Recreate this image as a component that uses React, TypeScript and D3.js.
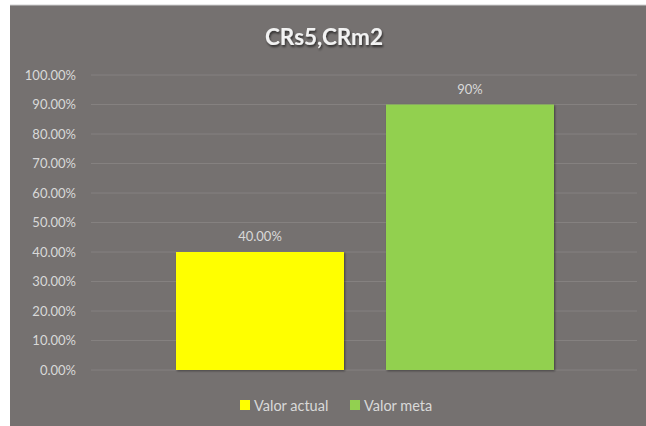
import React from "react";
import * as d3 from "d3";

const title = "CRs5,CRm2";
const categories = ["Valor actual", "Valor meta"];
const values = [0.4, 0.9];
const valueLabels = ["40.00%", "90%"];
const colors = ["#FFFF00", "#92D050"];
const yTicks = [0, 0.1, 0.2, 0.3, 0.4, 0.5, 0.6, 0.7, 0.8, 0.9, 1.0];

export default function App() {
  const W = 646, H = 426;
  const plotL = 91, plotR = 637, plotT = 75, plotB = 370;
  const y = d3.scaleLinear().domain([0, 1]).range([plotB, plotT]);
  const x = d3.scaleBand<string>().domain(categories).range([176, 554]).paddingInner(0.2).paddingOuter(0);
  const fmt = d3.format(".2%");
  const font = "Lato, 'Open Sans', sans-serif";
  const textCol = "#D9D9D9";
  return (
    <svg width={W} height={H} style={{ position: "absolute", left: 0, top: 0 }}>
      <defs>
        <filter id="sh" x="-10%" y="-10%" width="130%" height="130%">
          <feDropShadow dx="1" dy="1" stdDeviation="1.2" floodColor="#000" floodOpacity="0.45" />
        </filter>
        <filter id="tsh" x="-10%" y="-20%" width="130%" height="160%">
          <feDropShadow dx="1" dy="2" stdDeviation="1.3" floodColor="#000" floodOpacity="0.6" />
        </filter>
      </defs>
      <rect x={0} y={0} width={W} height={H} fill="#fff" />
      <rect x={10} y={5} width={W - 10} height={H - 5} fill="#757170" />
      <line x1={10} y1={5} x2={W} y2={5} stroke="#d0d0d0" strokeWidth={1} />
      <text x={324} y={45} textAnchor="middle" fontFamily={font} fontWeight="bold" fontSize={22.5} fill="#F2F2F2" filter="url(#tsh)">{title}</text>
      {yTicks.map((t) => (
        <g key={t}>
          <line x1={plotL} x2={plotR} y1={y(t)} y2={y(t)} stroke="#858180" strokeWidth={1} />
          <text x={76} y={y(t)} dy="0.35em" textAnchor="end" fontFamily={font} fontSize={13} fill={textCol}>{fmt(t)}</text>
        </g>
      ))}
      {categories.map((c, i) => (
        <g key={c}>
          <rect x={x(c)} y={y(values[i])} width={x.bandwidth()} height={plotB - y(values[i])} fill={colors[i]} filter="url(#sh)" />
          <text x={(x(c) as number) + x.bandwidth() / 2} y={y(values[i]) - 11} textAnchor="middle" fontFamily={font} fontSize={13} fill={textCol}>{valueLabels[i]}</text>
        </g>
      ))}
      {categories.map((c, i) => {
        const lx = [240, 350][i];
        return (
          <g key={"lg" + c}>
            <rect x={lx} y={400} width={10} height={10} fill={colors[i]} />
            <text x={lx + 14} y={405.5} dy="0.35em" fontFamily={font} fontSize={14.5} fill={textCol}>{c}</text>
          </g>
        );
      })}
    </svg>
  );
}
